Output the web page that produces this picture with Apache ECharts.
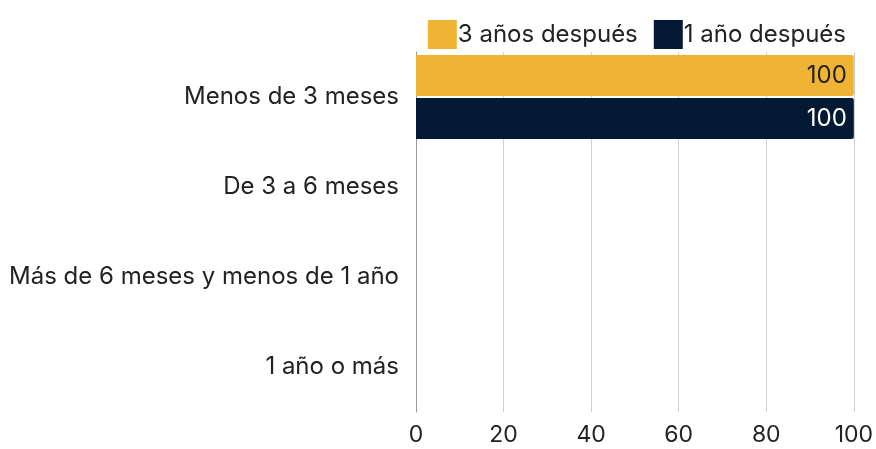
<!DOCTYPE html>
<html>
<head>
<meta charset="utf-8">
<script src="https://cdn.jsdelivr.net/npm/echarts@6/dist/echarts.min.js"></script>
<style>
  html, body { margin: 0; padding: 0; background: #fff; }
  #chart { width: 876px; height: 449px; }
</style>
</head>
<body>
<div id="chart"></div>
<script>
// categorías (de arriba a abajo)
const categories = ['Menos de 3 meses', 'De 3 a 6 meses', 'Más de 6 meses y menos de 1 año', '1 año o más']
const tresAnios = [100, 0, 0, 0]
const unAnio = [100, 0, 0, 0]
const xTicks = [0, 20, 40, 60, 80, 100]

const font = 'Inter, "Noto Sans", sans-serif'
const chart = echarts.init(document.getElementById('chart'))

chart.setOption({
  animation: false,
  textStyle: { fontFamily: font },
  legend: {
    top: 15,
    right: 25,
    itemWidth: 29,
    itemHeight: 29,
    itemGap: 16,
    textStyle: { fontSize: 24, color: '#222', fontFamily: font, padding: [0, 0, 0, -4] },
    data: [
      { name: '3 años después', icon: 'rect' },
      { name: '1 año después', icon: 'rect' }
    ]
  },
  grid: { left: 416, right: 21, top: 52, bottom: 37, containLabel: false },
  xAxis: {
    type: 'value',
    min: xTicks[0],
    max: xTicks[xTicks.length - 1],
    interval: 20,
    axisLine: { show: false },
    axisTick: { show: false },
    splitLine: { show: true, lineStyle: { color: '#d0d0d0', width: 1 } },
    axisLabel: { fontSize: 23, color: '#222', margin: 12, fontFamily: font }
  },
  yAxis: {
    type: 'category',
    inverse: true,
    data: categories,
    axisLine: { show: true, lineStyle: { color: '#999', width: 1 } },
    axisTick: { show: false },
    axisLabel: { fontSize: 24, color: '#222', margin: 17, fontFamily: font }
  },
  series: [
    {
      name: '3 años después',
      type: 'bar',
      data: tresAnios,
      barWidth: 41,
      barGap: '5%',
      itemStyle: { color: '#F0B435', borderRadius: [0, 2, 2, 0] },
      label: {
        show: true,
        position: 'insideRight',
        fontSize: 24,
        color: '#222',
        fontFamily: font,
        offset: [-2, 0],
        formatter: p => (p.value > 0 ? p.value : '')
      }
    },
    {
      name: '1 año después',
      type: 'bar',
      data: unAnio,
      barWidth: 41,
      itemStyle: { color: '#041934', borderRadius: [0, 2, 2, 0] },
      label: {
        show: true,
        position: 'insideRight',
        fontSize: 24,
        color: '#fff',
        fontFamily: font,
        offset: [-2, 0],
        formatter: p => (p.value > 0 ? p.value : '')
      }
    }
  ]
})
</script>
</body>
</html>
